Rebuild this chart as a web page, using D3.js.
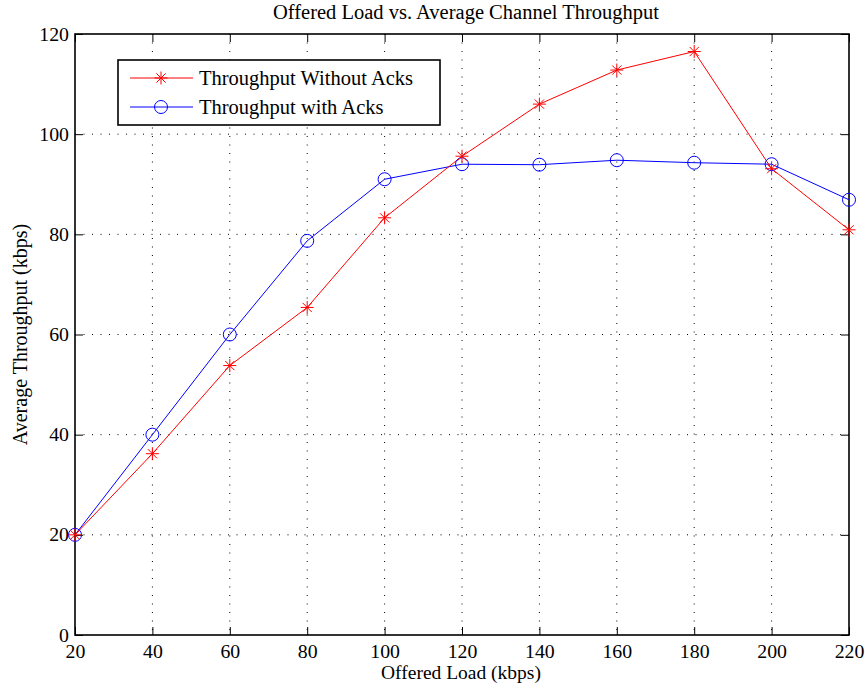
<!DOCTYPE html>
<html>
<head>
<meta charset="utf-8">
<script src="https://cdn.jsdelivr.net/npm/d3@7"></script>
<style>
  body { margin: 0; background: #fff; }
  text { font-family: "Liberation Serif", "Times New Roman", serif; fill: #000; }
</style>
</head>
<body>
<svg id="chart" width="865" height="691"></svg>
<script>
// data
const offeredLoad = [20, 40, 60, 80, 100, 120, 140, 160, 180, 200, 220];
const withoutAcks = [20, 36.2, 53.8, 65.4, 83.3, 95.6, 106, 112.8, 116.5, 93.1, 80.9];
const withAcks = [20, 40, 60, 78.7, 91, 94, 93.9, 94.8, 94.3, 94, 86.9];
const xTicks = [20, 40, 60, 80, 100, 120, 140, 160, 180, 200, 220];
const yTicks = [0, 20, 40, 60, 80, 100, 120];

const margin = {top: 34, right: 16, bottom: 56, left: 75};
const width = 865 - margin.left - margin.right;
const height = 691 - margin.top - margin.bottom;

const svg = d3.select("#chart");
const g = svg.append("g").attr("transform", `translate(${margin.left},${margin.top})`);

// scales
let x = d3.scaleLinear().domain([20, 220]).range([0, width]);
let y = d3.scaleLinear().domain([0, 120]).range([height, 0]);

// grid lines
g.append("g").selectAll("line").data(xTicks.slice(1, -1)).join("line")
  .attr("x1", d => x(d)).attr("x2", d => x(d))
  .attr("y1", 0).attr("y2", height)
  .attr("stroke", "#000").attr("stroke-width", 1)
  .attr("stroke-dasharray", "1,7.5");
g.append("g").selectAll("line").data(yTicks.slice(1, -1)).join("line")
  .attr("y1", d => y(d)).attr("y2", d => y(d))
  .attr("x1", 0).attr("x2", width)
  .attr("stroke", "#000").attr("stroke-width", 1)
  .attr("stroke-dasharray", "1,7.5");

// axes (ticks inward, matlab style box)
const tickLen = 8;
let bottomAxis = d3.axisBottom(x).tickValues(xTicks).tickSizeInner(-tickLen).tickSizeOuter(0).tickPadding(10);
let leftAxis = d3.axisLeft(y).tickValues(yTicks).tickSizeInner(-tickLen).tickSizeOuter(0).tickPadding(6);
let topAxis = d3.axisTop(x).tickValues(xTicks).tickSizeInner(-tickLen).tickSizeOuter(0).tickFormat("");
let rightAxis = d3.axisRight(y).tickValues(yTicks).tickSizeInner(-tickLen).tickSizeOuter(0).tickFormat("");

const xAxis = g.append("g").attr("transform", `translate(0,${height})`).call(bottomAxis);
const yAxis = g.append("g").call(leftAxis);
g.append("g").call(topAxis);
g.append("g").attr("transform", `translate(${width},0)`).call(rightAxis);

g.selectAll(".domain").remove();
g.selectAll(".tick line").attr("stroke", "#000");

// tick labels in the reference are a little wider than they are tall
xAxis.selectAll(".tick text")
  .style("font-size", "18px").attr("y", 0).attr("dy", null)
  .attr("transform", "translate(0,23) scale(1.1,1)");
yAxis.selectAll(".tick text")
  .style("font-size", "18px").attr("x", 0).attr("dy", "0.34em")
  .attr("transform", "translate(-6,0) scale(1.1,1)");

g.append("rect")
  .attr("width", width).attr("height", height)
  .attr("fill", "none").attr("stroke", "#000").attr("stroke-width", 1.6);

// lines
const line = d3.line().x((d, i) => x(offeredLoad[i])).y(d => y(d));

g.append("path").datum(withAcks)
  .attr("d", line).attr("fill", "none").attr("stroke", "#0000ff").attr("stroke-width", 1);
g.append("path").datum(withoutAcks)
  .attr("d", line).attr("fill", "none").attr("stroke", "#ff0000").attr("stroke-width", 1);

// markers
function starPath(r) {
  let d = "";
  for (let k = 0; k < 4; k++) {
    const a = k * Math.PI / 4;
    const dx = r * Math.sin(a), dy = r * Math.cos(a);
    d += `M${-dx},${-dy}L${dx},${dy}`;
  }
  return d;
}

g.append("g").selectAll("circle").data(withAcks).join("circle")
  .attr("cx", (d, i) => x(offeredLoad[i])).attr("cy", d => y(d))
  .attr("r", 6.5).attr("fill", "none").attr("stroke", "#0000ff").attr("stroke-width", 1);

g.append("g").selectAll("path").data(withoutAcks).join("path")
  .attr("transform", (d, i) => `translate(${x(offeredLoad[i])},${y(d)})`)
  .attr("d", starPath(6.5)).attr("fill", "none").attr("stroke", "#ff0000").attr("stroke-width", 1);

// title + labels
svg.append("text")
  .attr("x", 466).attr("y", 19)
  .attr("text-anchor", "middle").style("font-size", "20.5px")
  .text("Offered Load vs. Average Channel Throughput");

svg.append("text")
  .attr("x", 461).attr("y", 679)
  .attr("text-anchor", "middle").style("font-size", "19.5px")
  .text("Offered Load (kbps)");

svg.append("text")
  .attr("transform", `translate(27,${margin.top + height / 2}) rotate(-90)`)
  .attr("text-anchor", "middle").style("font-size", "20px")
  .text("Average Throughput (kbps)");

// legend
const legend = svg.append("g").attr("transform", "translate(118,60)");
legend.append("rect")
  .attr("width", 322).attr("height", 65)
  .attr("fill", "#fff").attr("stroke", "#000").attr("stroke-width", 1.6);

const legendItems = [
  {label: "Throughput Without Acks", color: "#ff0000", marker: "star"},
  {label: "Throughput with Acks", color: "#0000ff", marker: "circle"}
];

legendItems.forEach((item, i) => {
  const row = legend.append("g").attr("transform", `translate(0,${18 + i * 29})`);
  row.append("line").attr("x1", 12).attr("x2", 75)
    .attr("stroke", item.color).attr("stroke-width", 1);
  if (item.marker === "star") {
    row.append("path").attr("transform", "translate(43,0)")
      .attr("d", starPath(6.5)).attr("fill", "none").attr("stroke", item.color);
  } else {
    row.append("circle").attr("cx", 43).attr("r", 6.5)
      .attr("fill", "none").attr("stroke", item.color);
  }
  row.append("text").attr("x", 81).attr("y", 7)
    .style("font-size", "20.5px").text(item.label);
});
</script>
</body>
</html>
